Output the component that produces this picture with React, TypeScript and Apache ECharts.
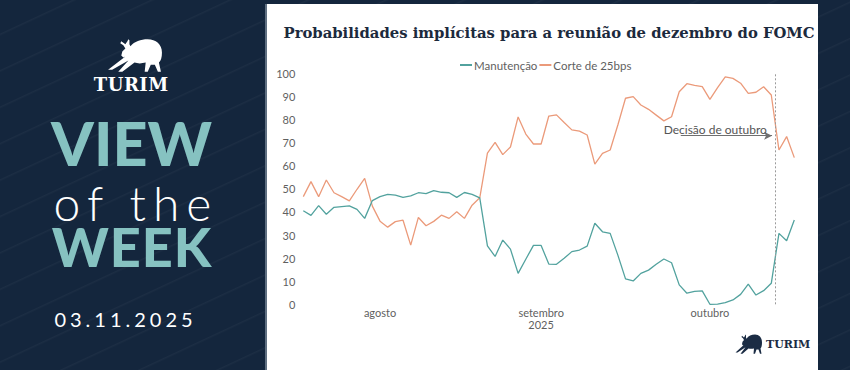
import React, { useEffect, useRef } from "react";
import * as echarts from "echarts";

// ---------- data ----------
const seriesNames = ["Manutenção", "Corte de 25bps"];
const manutencao = [
  40.5, 38.5, 42.7, 39.0, 42.0, 42.3, 42.6, 41.1, 37.2, 44.9,
  46.6, 47.6, 47.3, 46.3, 46.9, 48.3, 47.9, 49.2, 48.5, 48.3,
  46.3, 48.4, 47.6, 46.1, 25.3, 20.7, 27.8, 23.9, 13.4, 19.5,
  25.5, 25.5, 17.4, 17.3, 19.9, 22.8, 23.5, 25.2, 35.1, 31.4,
  30.7, 21.3, 11.0, 10.1, 13.4, 14.8, 17.3, 19.6, 18.0, 8.4,
  4.8, 5.6, 5.8, 0.0, 0.1, 0.7, 1.9, 4.3, 8.7, 4.0,
  5.9, 9.1, 30.7, 27.5, 36.5,
];
const corte25 = [
  46.6, 53.1, 46.6, 53.8, 48.3, 46.6, 44.8, 49.8, 54.5, 42.5,
  36.0, 33.4, 35.8, 36.4, 25.6, 37.6, 34.0, 35.9, 38.6, 37.2,
  40.1, 37.2, 42.9, 46.1, 65.4, 70.1, 64.8, 68.1, 81.1, 73.7,
  69.4, 69.4, 81.5, 82.0, 78.7, 75.5, 75.0, 73.3, 60.7, 65.3,
  66.8, 77.6, 89.2, 89.9, 86.3, 84.4, 81.9, 79.4, 81.2, 92.0,
  95.5, 94.8, 94.2, 88.7, 93.8, 98.5, 97.8, 95.7, 91.3, 91.8,
  94.2, 90.6, 66.8, 72.6, 63.5,
];
// month tick labels (position = index of first observation of the month)
const monthTickIdx = [10, 31, 53];
const monthTickLabels = ["agosto", "setembro\n2025", "outubro"];
const yTicks = { min: 0, max: 100, interval: 10 };
// October decision marker and its annotation (data coordinates)
const decisionIdx = 61.5;
const annotationText = "Decisão de outubro";
const arrowFrom = [49.2, 73];
const arrowTo = [61.1, 73];
const annotationAt = [53.7, 75.8];

const titleText = "Probabilidades implícitas para a reunião de dezembro do FOMC";

// ---------- styles ----------
const NAVY = "#14263d";
const TEAL_TXT = "#86c2c1";
const TEAL = "#52a29e";
const ORANGE = "#eb9a7a";
const SANS = "Lato, 'Noto Sans', sans-serif";
const SERIF = "'DejaVu Serif', serif";

const BULL_PATH =
  "M27,8 C31,3 37,1 44,1 C52,1 58,6 58,14 C58,19 57,22 55,24 L57,33 L54,33 L51,26 L47,26 L44,33 L41,33 L42,24 C38,25 34,25 31,24 L19,33 L15,33 L25,22 L9,31 L5,31 L22,18 L20,19 L18,17 L19,13 L22,10 L20,7 L17,5 L18,3 L22,6 L24,3 L25,1 L26,2 L26,6 Z";

echarts.graphic.registerShape("bull", echarts.graphic.extendPath(BULL_PATH, {}));

const CARD_X = 265;
const CARD_Y = 4;
const CARD_W = 553;
const CARD_H = 366;

function Chart() {
  const ref = useRef<HTMLDivElement>(null);
  useEffect(() => {
    if (!ref.current) return;
    const chart = echarts.init(ref.current, null, { renderer: "svg" });
    const labelMap: Record<number, string> = {};
    monthTickIdx.forEach((v, i) => (labelMap[v] = monthTickLabels[i]));
    const n = manutencao.length;
    chart.setOption({
      animation: false,
      backgroundColor: "#ffffff",
      textStyle: { fontFamily: SANS },
      legend: {
        data: seriesNames,
        left: 190,
        top: 50,
        icon: "rect",
        itemWidth: 12,
        itemHeight: 2,
        itemGap: 2,
        textStyle: {
          color: "#5f5f5f",
          fontSize: 11.5,
          fontFamily: SANS,
          padding: [0, 0, 0, -3],
        },
      },
      grid: { left: 38.3, top: 69.3, width: 491, height: 231, containLabel: false },
      xAxis: {
        type: "value",
        min: 0,
        max: n - 1,
        axisLine: { show: false },
        axisTick: { show: false },
        splitLine: { show: false },
        axisLabel: {
          customValues: monthTickIdx,
          formatter: (v: number) => labelMap[v] ?? "",
          color: "#5f5f5f",
          fontSize: 11,
          lineHeight: 12,
          margin: 2,
          fontFamily: SANS,
        },
      },
      yAxis: {
        type: "value",
        min: yTicks.min,
        max: yTicks.max,
        interval: yTicks.interval,
        axisLine: { show: false },
        axisTick: { show: false },
        splitLine: { show: false },
        axisLabel: { color: "#5f5f5f", fontSize: 11, margin: 8, fontFamily: SANS },
      },
      series: [
        {
          name: seriesNames[0],
          type: "line",
          data: manutencao.map((v, i) => [i, v]),
          showSymbol: false,
          color: TEAL,
          lineStyle: { width: 1.3, color: TEAL },
          z: 3,
          markLine: {
            silent: true,
            symbol: ["none", "none"],
            label: { show: false },
            data: [
              {
                xAxis: decisionIdx,
                lineStyle: { color: "#9a9a9a", type: [2, 2], width: 1 },
              },
            ],
          },
        },
        {
          name: seriesNames[1],
          type: "line",
          data: corte25.map((v, i) => [i, v]),
          showSymbol: false,
          color: ORANGE,
          lineStyle: { width: 1.3, color: ORANGE },
          z: 2,
          markLine: {
            silent: true,
            symbol: ["none", "arrow"],
            symbolSize: [6, 8],
            label: { show: false },
            lineStyle: { color: "#6f6f6f", type: "solid", width: 1.2 },
            data: [[{ coord: arrowFrom }, { coord: arrowTo }]],
          },
          markPoint: {
            silent: true,
            symbol: "circle",
            symbolSize: 1,
            itemStyle: { color: "rgba(0,0,0,0)" },
            label: {
              show: true,
              position: "inside",
              formatter: annotationText,
              color: "#555555",
              fontSize: 12,
              fontFamily: SANS,
            },
            data: [{ coord: annotationAt }],
          },
        },
      ],
      graphic: [
        {
          type: "text",
          x: 284,
          y: 28,
          style: {
            text: titleText,
            fontFamily: SERIF,
            fontWeight: "bold",
            fontSize: 14.8,
            fill: "#1c2a3d",
            align: "center",
            verticalAlign: "middle",
          },
        },
        {
          type: "bull",
          x: 468,
          y: 330,
          scaleX: 0.5,
          scaleY: 0.6,
          style: { fill: "#1b2c44" },
        },
        {
          type: "text",
          x: 501,
          y: 340,
          style: {
            text: "TURIM",
            fontFamily: SERIF,
            fontWeight: "bold",
            fontSize: 11,
            fill: "#1b2c44",
            verticalAlign: "middle",
          },
        },
      ],
    });
    return () => chart.dispose();
  }, []);
  return <div ref={ref} style={{ width: CARD_W, height: CARD_H }} />;
}

export default function App() {
  const abs = (o: React.CSSProperties): React.CSSProperties => ({
    position: "absolute",
    margin: 0,
    padding: 0,
    whiteSpace: "nowrap",
    ...o,
  });
  // centred text with letter spacing: visual centre c => width 2c + s
  const centred = (c: number, s: number): React.CSSProperties => ({
    left: 0,
    width: 2 * c + s,
    textAlign: "center",
    letterSpacing: s,
  });
  return (
    <div
      style={{
        position: "fixed",
        left: 0,
        top: 0,
        width: 850,
        height: 370,
        overflow: "hidden",
        background: NAVY,
      }}
    >
      <div
        style={abs({
          left: 0,
          top: 0,
          width: 850,
          height: 370,
          background:
            "repeating-linear-gradient(155deg, rgba(255,255,255,0) 0px, rgba(255,255,255,0) 30px, rgba(255,255,255,0.035) 31px, rgba(255,255,255,0) 33px)",
        })}
      />
      <svg
        width={62}
        height={35}
        viewBox="0 0 61 34"
        style={abs({ left: 103, top: 38 })}
      >
        <path d={BULL_PATH} fill="#ffffff" />
      </svg>
      <div
        style={abs({
          ...centred(131, 0.5),
          top: 76,
          fontFamily: SERIF,
          fontWeight: 700,
          fontSize: 18,
          lineHeight: 1,
          color: "#ffffff",
        })}
      >
        TURIM
      </div>
      <div
        style={abs({
          ...centred(131.5, 0),
          top: 119,
          fontFamily: "Lato, sans-serif",
          fontWeight: 900,
          fontSize: 61,
          lineHeight: 0.8,
          color: TEAL_TXT,
        })}
      >
        VIEW
      </div>
      <div
        style={abs({
          ...centred(132.5, 7),
          top: 184.2,
          fontFamily: "Lato, sans-serif",
          fontWeight: 300,
          fontSize: 48,
          lineHeight: 0.8,
          color: "#ffffff",
        })}
      >
        of the
      </div>
      <div
        style={abs({
          ...centred(131.5, 1),
          top: 224.5,
          fontFamily: "Lato, sans-serif",
          fontWeight: 900,
          fontSize: 54,
          lineHeight: 0.8,
          color: TEAL_TXT,
        })}
      >
        WEEK
      </div>
      <div
        style={abs({
          ...centred(123.5, 4),
          top: 309.3,
          fontFamily: "Lato, sans-serif",
          fontWeight: 400,
          fontSize: 20,
          lineHeight: 1,
          color: "#ffffff",
        })}
      >
        03.11.2025
      </div>
      <div
        style={abs({
          left: CARD_X,
          top: CARD_Y,
          width: CARD_W,
          height: CARD_H,
          background: "#ffffff",
        })}
      >
        <Chart />
      </div>
      <div
        style={abs({
          left: CARD_X,
          top: CARD_Y,
          width: 2,
          height: CARD_H,
          background: "#5f6f81",
        })}
      />
    </div>
  );
}
